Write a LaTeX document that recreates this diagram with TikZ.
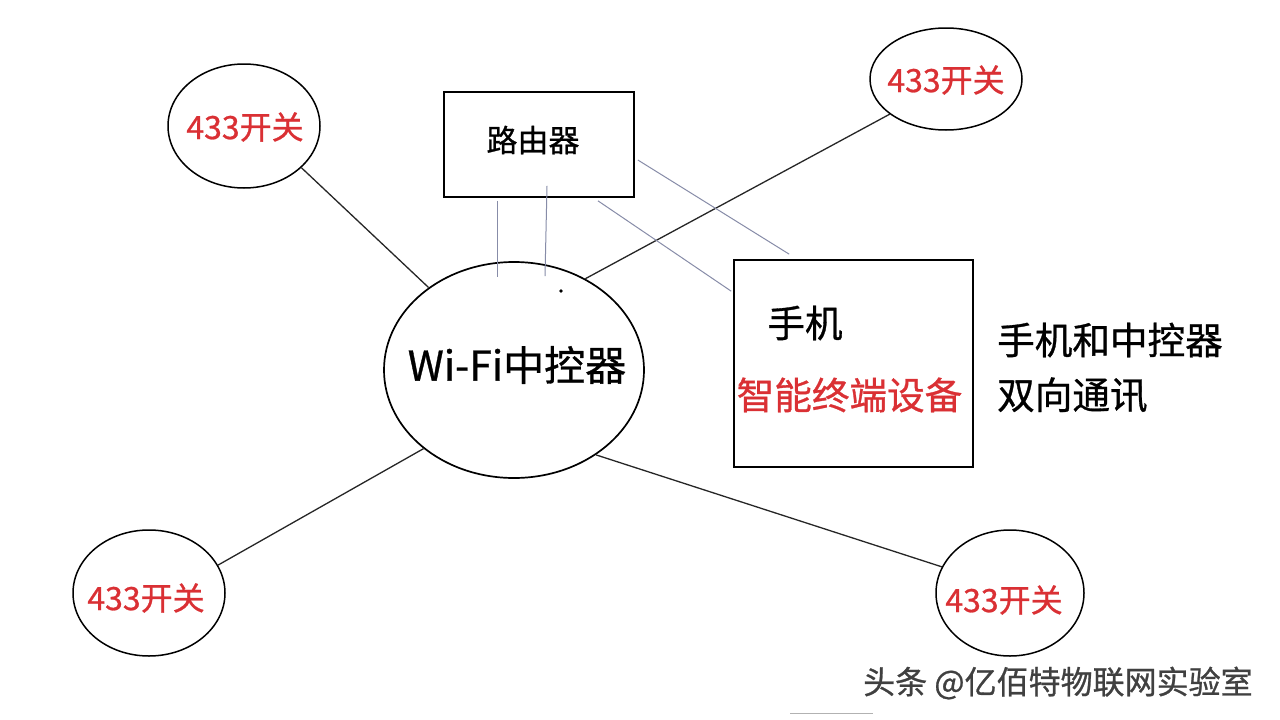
\documentclass[tikz,border=0pt]{standalone}
\usepackage{fontspec}
\setmainfont{Noto Sans CJK SC}
\newfontfamily\heavy[FakeBold=0.8]{Noto Sans CJK SC}
\usetikzlibrary{shapes.geometric,calc}
\definecolor{swred}{RGB}{218,48,52}
\definecolor{wire}{RGB}{135,140,168}
\begin{document}
\begin{tikzpicture}[x=1pt,y=-1pt,
  sw/.style={draw, ellipse, line width=1.5pt, inner sep=0pt},
  swtext/.style={inner sep=0pt, text=swred, font=\heavy\fontsize{32}{32}\selectfont},
  hub/.style={draw, ellipse, line width=1.7pt, inner sep=0pt},
  boxnode/.style={draw, rectangle, line width=1.7pt, inner sep=0pt},
  link/.style={line width=1.3pt, draw=black!85},
  rlink/.style={line width=1pt, draw=wire},
  lbl/.style={inner sep=0pt, font=\heavy\fontsize{37.6}{37.6}\selectfont}]
\useasboundingbox (0,0) rectangle (1280,720);
\fill[white] (0,0) rectangle (1280,720);

% switches
\node[sw, minimum width=152pt, minimum height=124pt] (sw1) at (244,126) {};
\node[swtext] (sw1t) at (245,127) {433开关};
\node[sw, minimum width=152pt, minimum height=102pt] (sw2) at (946,79) {};
\node[swtext] (sw2t) at (946,80) {433开关};
\node[sw, minimum width=152pt, minimum height=126pt] (sw3) at (149,593) {};
\node[swtext] (sw3t) at (146,598) {433开关};
\node[sw, minimum width=148pt, minimum height=126pt] (sw4) at (1010,593) {};
\node[swtext] (sw4t) at (1004,600) {433开关};

% hub
\node[hub, minimum width=260pt, minimum height=216pt] (ctrl) at (514,370) {};
\node[inner sep=0pt, font=\heavy\fontsize{41}{41}\selectfont] (ctrltext) at (517,365) {Wi-Fi中控器};

% router
\node[boxnode, minimum width=190pt, minimum height=105pt] (router) at (539,144.5) {};
\node[inner sep=0pt, font=\heavy\fontsize{31}{31}\selectfont] (routertext) at (533,140) {路由器};

% phone
\node[boxnode, minimum width=239pt, minimum height=207pt] (phone) at (853.5,363.5) {};
\node[lbl] (shouji) at (805,323) {手机};
\node[lbl, text=swred] (zhineng) at (849.5,395) {智能终端设备};
\node[lbl, anchor=west] (note1) at (997,340) {手机和中控器};
\node[lbl, anchor=west] (note2) at (997,395) {双向通讯};

% watermark
\node[inner sep=0pt, anchor=west, text=black!75, font=\heavy\fontsize{32}{32}\selectfont] (wm) at (863,683) {头条 @亿佰特物联网实验室};

% links
\draw[link] (sw1.-36) -- (ctrl.136);
\draw[link] (sw2.-148) -- (ctrl.52.6);
\draw[link] (sw3.22) -- (ctrl.221);
\draw[link] (ctrl.-46) -- (sw4.159);

% router links
\draw[rlink] ($(router.south)+(-42,3)$) -- ($(ctrl.north)+(-17,16)$);
\draw[rlink] ($(router.south)+(8,-12)$) -- ($(ctrl.north)+(31,15)$);
\draw[rlink] ($(router.east)+(3,15.5)$) -- ($(phone.north west)+(56,-5)$);
\draw[rlink] ($(router.south)+(59,3)$) -- ($(phone.north west)+(-2,32)$);

% small dot and stray line
\fill (561,291) circle (1.8pt);
\draw[black!30, line width=0.8pt] (790,713) -- (873,713);
\end{tikzpicture}
\end{document}
